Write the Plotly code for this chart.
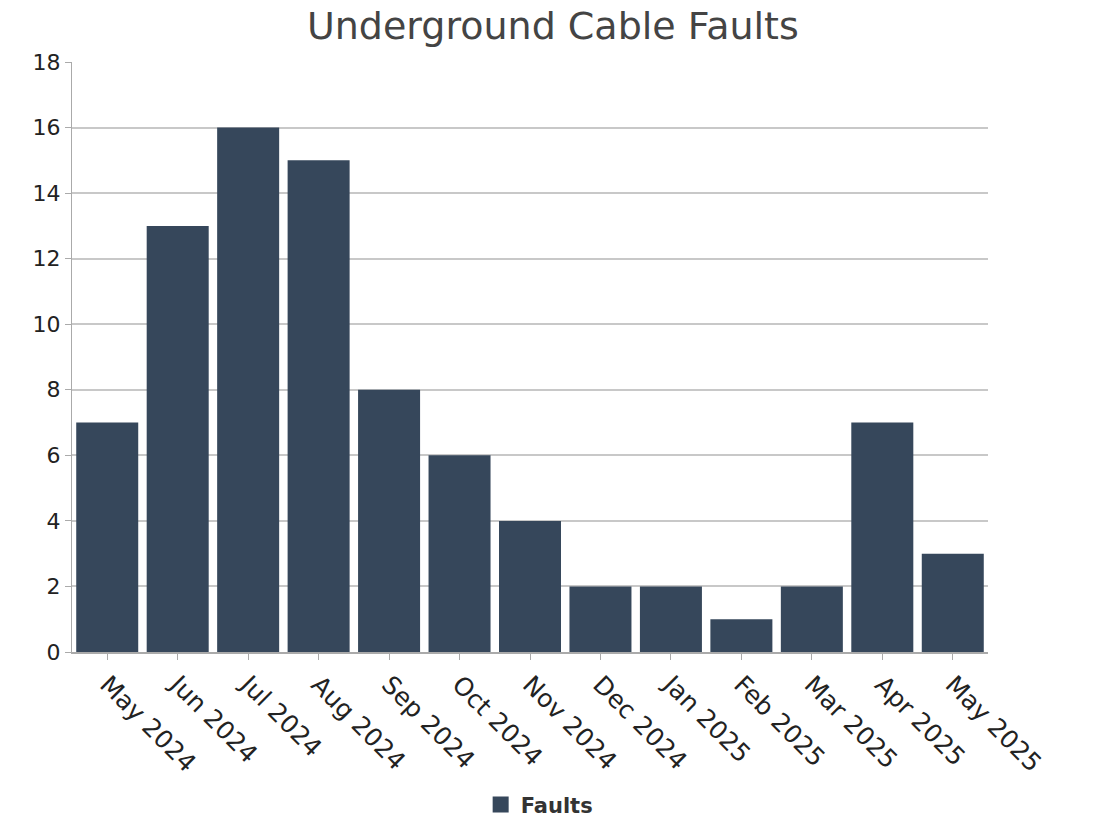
import plotly.graph_objects as go

months = ["May 2024", "Jun 2024", "Jul 2024", "Aug 2024", "Sep 2024", "Oct 2024",
          "Nov 2024", "Dec 2024", "Jan 2025", "Feb 2025", "Mar 2025", "Apr 2025", "May 2025"]
faults = [7, 13, 16, 15, 8, 6, 4, 2, 2, 1, 2, 7, 3]
y_ticks = [0, 2, 4, 6, 8, 10, 12, 14, 16, 18]

FONT = "'DejaVu Sans', sans-serif"
BAR = "#36475b"

fig = go.Figure()
fig.add_trace(go.Bar(x=months, y=faults, name="Faults", showlegend=False,
                     marker=dict(color=BAR, line=dict(width=0))))
# legend entry with a larger square swatch
fig.add_trace(go.Scatter(x=[None], y=[None], mode="markers", name="<b>Faults</b>",
                         marker=dict(symbol="square", size=26, color=BAR)))

fig.update_layout(
    width=1097, height=822,
    paper_bgcolor="white", plot_bgcolor="white",
    margin=dict(l=72, r=109, t=62, b=170),
    bargap=0.12,
    font=dict(family=FONT, color="#222222"),
    title=dict(text="Underground Cable Faults", x=0.504, xanchor="center", y=0.969, yanchor="middle",
               font=dict(size=38, color="#444444", family=FONT)),
    showlegend=True,
    legend=dict(orientation="h", x=0.51, xanchor="center", yref="container", y=0.021, yanchor="middle",
                font=dict(size=21, color="#333333", family=FONT)),
    xaxis=dict(tickangle=45, tickfont=dict(size=25, color="#222222"), showline=True, linecolor="#aaaaaa",
               linewidth=2, ticks="outside", ticklen=6, tickcolor="#aaaaaa", showgrid=False,
               automargin=False),
    yaxis=dict(range=[0, 18], tickvals=y_ticks, tickfont=dict(size=22, color="#222222"), showline=True,
               linecolor="#aaaaaa", linewidth=1, ticks="outside", ticklen=6, tickcolor="#aaaaaa",
               gridcolor="#c8c8c8", gridwidth=2, zeroline=False, automargin=False),
)
fig.write_html("out.html")
